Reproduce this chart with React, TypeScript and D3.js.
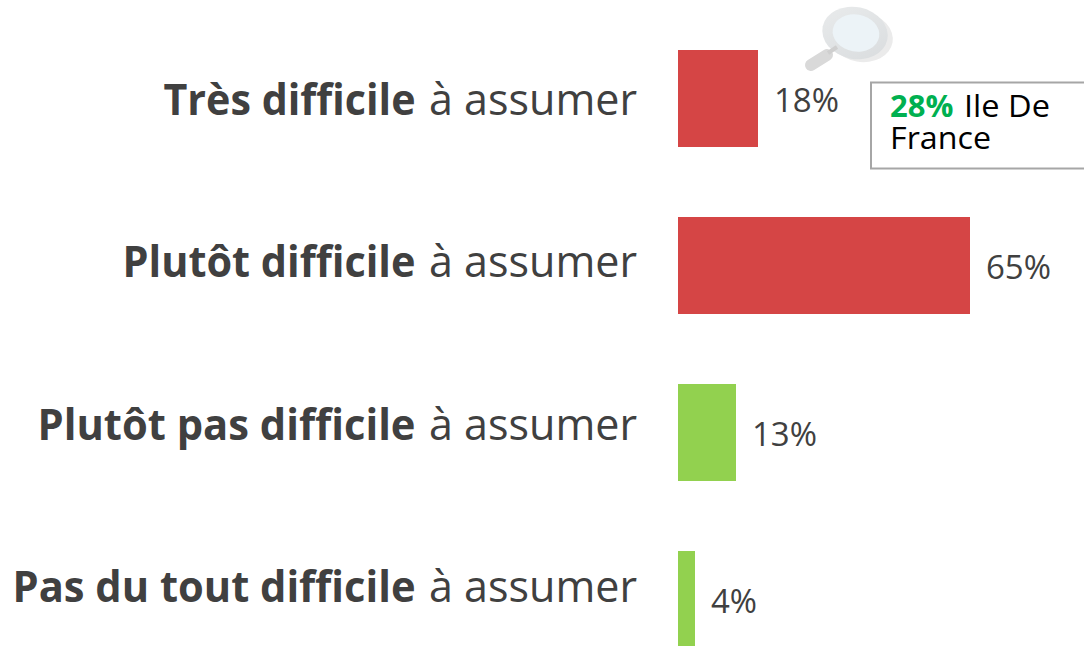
import React from "react";
import * as d3 from "d3";

const boldLabels = ["Très difficile", "Plutôt difficile", "Plutôt pas difficile", "Pas du tout difficile"];
const labelSuffix = "à assumer";
const values = [18, 65, 13, 4];
const barColors = ["#d54545", "#d54545", "#92d14f", "#92d14f"];
const calloutValue = "28%";
const calloutLines = ["Ile De", "France"];

const W = 1084, H = 646;
const FONT = "'Open Sans', sans-serif";
// widths of the bold part
const boldWidths = [252, 293, 378, 403];

export default function App() {
  const x = d3.scaleLinear().domain([0, 65]).range([678, 970]);
  const y = d3.scaleBand<number>().domain(d3.range(4)).range([50, 718]).padding(0).paddingInner(0);
  const labelY = d3.scaleLinear().domain([0, 3]).range([115, 602]);
  const bh = 97;
  return (
    <svg width={W} height={H} style={{ position: "absolute", left: 0, top: 0, background: "#fff" }}>
      <defs>
        <linearGradient id="ring" x1="0" y1="0" x2="1" y2="1">
          <stop offset="0" stopColor="#e9ebec" />
          <stop offset="1" stopColor="#d9dcde" />
        </linearGradient>
        <filter id="soft" x="-10%" y="-10%" width="120%" height="120%">
          <feGaussianBlur stdDeviation="0.7" />
        </filter>
      </defs>
      {values.map((v, i) => {
        const top = y(i)!;
        const end = Math.floor(x(v));
        return (
          <g key={i}>
            <text x={415.5} y={labelY(i)} textAnchor="end" fontFamily={FONT} fontWeight={700} fontSize={43} fill="#404040"
              textLength={boldWidths[i]} lengthAdjust="spacingAndGlyphs">{boldLabels[i]}</text>
            <text x={637} y={labelY(i)} textAnchor="end" fontFamily={FONT} fontSize={43} fill="#404040"
              textLength={208} lengthAdjust="spacingAndGlyphs">{labelSuffix}</text>
            <rect x={x(0)} y={top} width={end - x(0)} height={i === 3 ? 95 : bh} fill={barColors[i]} />
            <text x={end + 16} y={top + 62} fontFamily={FONT} fontSize={32} fill="#404040"
              textLength={v < 10 ? 46 : 65} lengthAdjust="spacingAndGlyphs">{v}%</text>
          </g>
        );
      })}
      {/* magnifier */}
      <g filter="url(#soft)">
        <ellipse cx={861} cy={37} rx={32} ry={25} transform="rotate(10 861 37)" fill="#ebebeb" />
        <ellipse cx={855} cy={33} rx={33} ry={26} transform="rotate(12 855 33)" fill="url(#ring)" />
        <ellipse cx={856} cy={33} rx={23.5} ry={18.5} transform="rotate(10 856 33)" fill="#ecf3f7" />
        <line x1={811} y1={65} x2={827} y2={55} stroke="#d9d9d9" strokeWidth={12} strokeLinecap="round" />
        <line x1={828} y1={53} x2={837} y2={47} stroke="#cfcfcf" strokeWidth={4} />
      </g>
      {/* callout */}
      <rect x={871} y={82.5} width={220} height={86} fill="#fff" stroke="#a6a6a6" strokeWidth={2} />
      <text x={890} y={117} fontFamily={FONT} fontSize={31} fontWeight={700} fill="#00b050">{calloutValue}</text>
      <text x={964} y={117} fontFamily={FONT} fontSize={31} fill="#000" textLength={86} lengthAdjust="spacingAndGlyphs">{calloutLines[0]}</text>
      <text x={890} y={149} fontFamily={FONT} fontSize={31} fill="#000" textLength={101} lengthAdjust="spacingAndGlyphs">{calloutLines[1]}</text>
    </svg>
  );
}
